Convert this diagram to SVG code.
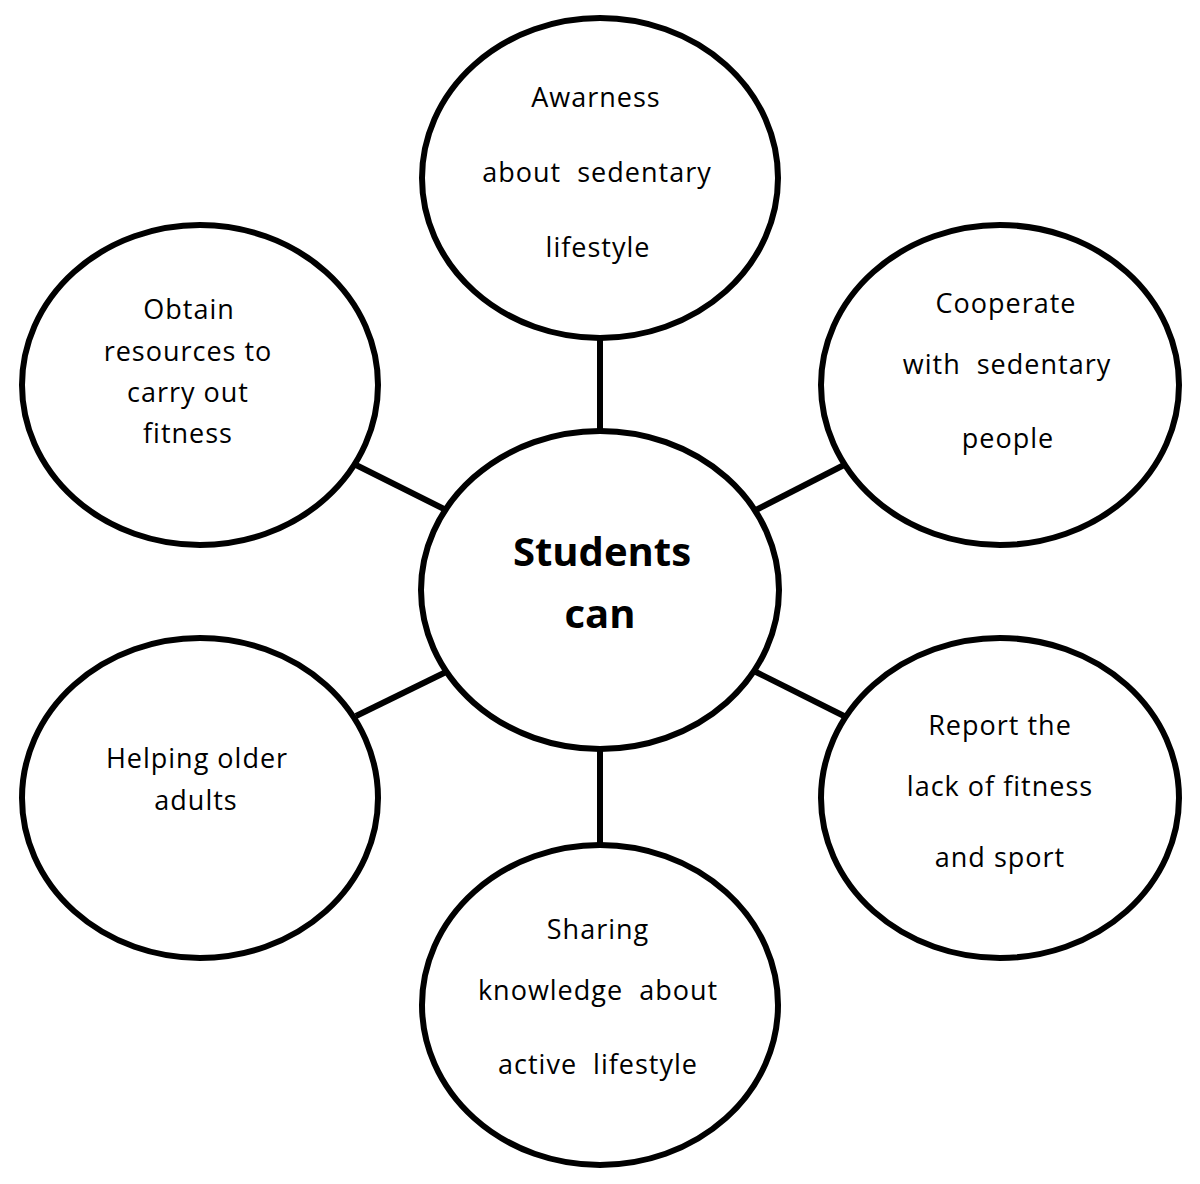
<svg xmlns="http://www.w3.org/2000/svg" width="1200" height="1184" viewBox="0 0 1200 1184">
<style>
ellipse{fill:#fff;stroke:#000;stroke-width:6}
line{stroke:#000;stroke-width:6}
text{font-family:"Open Sans","Liberation Sans",sans-serif;font-size:27px;text-anchor:middle;fill:#000;letter-spacing:1px;white-space:pre}
.b{font-weight:bold;font-size:40px;letter-spacing:0}
</style>
<rect width="1200" height="1184" fill="#fff"/>
<g id="connectors">
<line x1="600" y1="338" x2="600" y2="432"/>
<line x1="600" y1="748" x2="600" y2="845"/>
<line x1="356" y1="465" x2="446" y2="510"/>
<line x1="844" y1="465" x2="756" y2="510"/>
<line x1="356" y1="716" x2="446" y2="672"/>
<line x1="844" y1="716" x2="756" y2="672"/>
</g>
<g id="center"><ellipse cx="600" cy="590" rx="179" ry="159"/>
<text class="b" x="602" y="566">Students</text><text class="b" x="600" y="628">can</text></g>
<g id="top"><ellipse cx="600" cy="178" rx="178" ry="160"/>
<text x="596" y="107">Awarness</text><text x="597" y="182" xml:space="preserve">about  sedentary</text><text x="598" y="257">lifestyle</text></g>
<g id="ul"><ellipse cx="200" cy="385" rx="178" ry="160"/>
<text x="189" y="319">Obtain</text><text x="188" y="361">resources to</text><text x="188" y="402">carry out</text><text x="188" y="443">fitness</text></g>
<g id="ur"><ellipse cx="1000" cy="385" rx="179" ry="160"/>
<text x="1006" y="313">Cooperate</text><text x="1007" y="374" xml:space="preserve">with  sedentary</text><text x="1008" y="448">people</text></g>
<g id="ll"><ellipse cx="200" cy="798" rx="178" ry="160"/>
<text x="197" y="768">Helping older</text><text x="196" y="810">adults</text></g>
<g id="lr"><ellipse cx="1000" cy="798" rx="179" ry="160"/>
<text x="1000" y="735">Report the</text><text x="1000" y="796">lack of fitness</text><text x="1000" y="867">and sport</text></g>
<g id="bottom"><ellipse cx="600" cy="1005" rx="178" ry="160"/>
<text x="598" y="939">Sharing</text><text x="598" y="1000" xml:space="preserve">knowledge  about</text><text x="598" y="1074" xml:space="preserve">active  lifestyle</text></g>
</svg>
